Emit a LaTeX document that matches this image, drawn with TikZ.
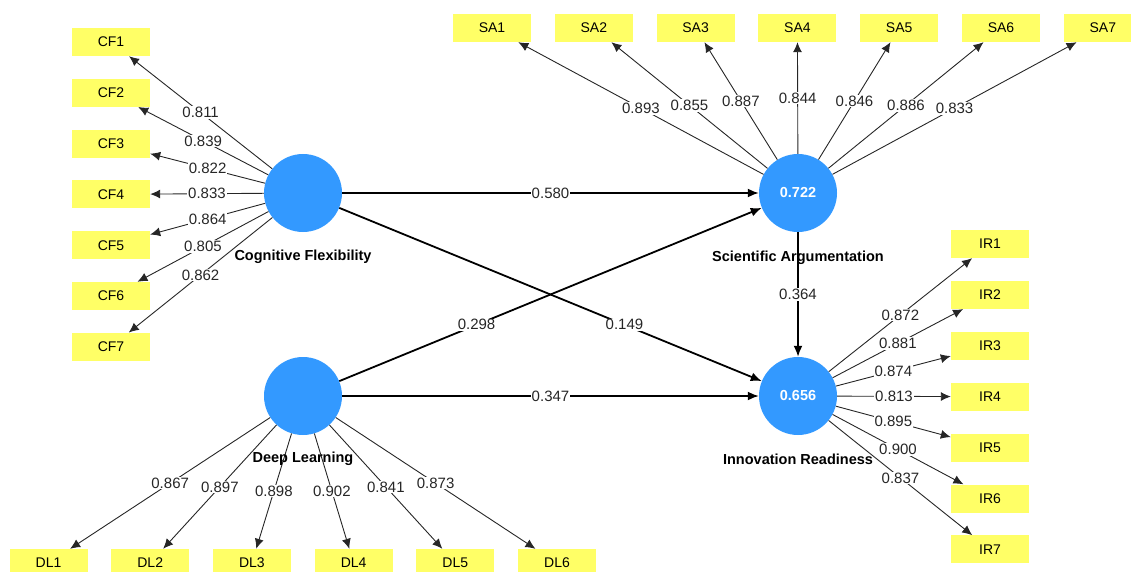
\documentclass[tikz,border=0pt]{standalone}
\usepackage{fontspec}
\setmainfont{Liberation Sans}
\usetikzlibrary{arrows.meta}
\definecolor{lvblue}{HTML}{3399FF}
\definecolor{mvyellow}{HTML}{FFFF66}
\begin{document}
\begin{tikzpicture}[x=1pt,y=-1pt,
		lv/.style={circle,fill=lvblue,minimum size=78pt,inner sep=0pt,text=white,font=\bfseries\fontsize{14.5}{16}\selectfont},
		mv/.style={rectangle,fill=mvyellow,minimum width=78pt,minimum height=28pt,inner sep=0pt,font=\fontsize{14}{16}\selectfont},
		lvname/.style={font=\bfseries\fontsize{14.5}{16}\selectfont},
		loading/.style={-{Latex[length=10pt,width=9pt]},line width=0.9pt,draw=black!85},
		struct/.style={-{Latex[length=11pt,width=9pt]},line width=1.8pt},
		coef/.style={fill=white,inner sep=1pt,font=\fontsize{15}{17}\selectfont,text=black!85}]
	\useasboundingbox (0,0) rectangle (1131,572);
	% latent variables
	\node[lv] (cf) at (303,193) {};
	\node[lv] (sa) at (798,193) {0.722};
	\node[lv] (ir) at (798,396) {0.656};
	\node[lv] (dl) at (303,396) {};
	% structural paths
	\draw[struct] (cf) -- node[coef]{0.580} (sa);
	\draw[struct] (cf) -- node[coef,pos=0.675]{0.149} (ir);
	\draw[struct] (dl) -- node[coef,pos=0.325]{0.298} (sa);
	\draw[struct] (dl) -- node[coef]{0.347} (ir);
	\draw[struct] (sa) -- node[coef]{0.364} (ir);
	% indicators
	\foreach \v [count=\i] in {0.811,0.839,0.822,0.833,0.864,0.805,0.862}{
		\node[mv] (cf\i) at (111,{42+50.8*(\i-1)}) {CF\i};
		\draw[loading] (cf) -- node[coef]{\v} (cf\i);
	}
	\foreach \v [count=\i] in {0.893,0.855,0.887,0.844,0.846,0.886,0.833}{
		\node[mv] (sa\i) at ({492+101.8*(\i-1)},28) {SA\i};
		\draw[loading] (sa) -- node[coef]{\v} (sa\i);
	}
	\foreach \v [count=\i] in {0.872,0.881,0.874,0.813,0.895,0.900,0.837}{
		\node[mv] (ir\i) at (990,{244+50.9*(\i-1)}) {IR\i};
		\draw[loading] (ir) -- node[coef]{\v} (ir\i);
	}
	\foreach \v [count=\i] in {0.867,0.897,0.898,0.902,0.841,0.873}{
		\node[mv] (dl\i) at ({48.5+101.7*(\i-1)},563) {DL\i};
		\draw[loading] (dl) -- node[coef]{\v} (dl\i);
	}
	% names
	\node[lvname] (cfname) at (303,257) {Cognitive Flexibility};
	\node[lvname] (saname) at (798,258) {Scientific Argumentation};
	\node[lvname] (irname) at (798,459) {Innovation Readiness};
	\node[lvname] (dlname) at (303,459) {Deep Learning};
\end{tikzpicture}
\end{document}
